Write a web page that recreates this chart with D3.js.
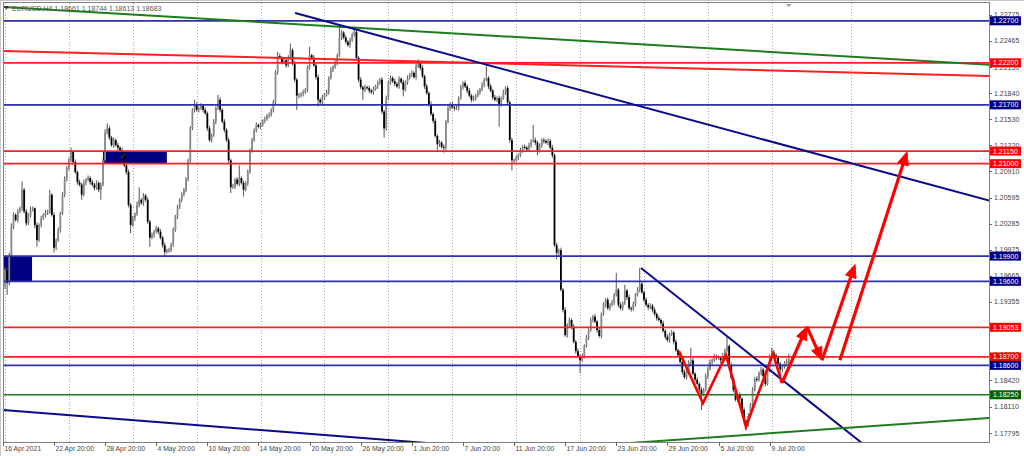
<!DOCTYPE html>
<html><head><meta charset="utf-8">
<script src="https://cdn.jsdelivr.net/npm/d3@7"></script>
<style>body{margin:0;background:#fff}svg{display:block}text{font-family:"Liberation Sans",Arial,sans-serif}</style>
</head><body><svg id="c" width="1024" height="456"></svg>
<script>
// ---- data (EURUSD H4) ----
const firstOpen = 1.1955;
const closes = [
1.1974,1.1958,1.1991,1.2025,1.2039,1.2033,1.2043,1.2047,1.2069,1.2043,
1.2029,1.2039,1.2045,1.2047,1.2027,1.2009,1.2027,1.2035,1.2039,1.2041,
1.2043,1.2063,1.2039,1.2000,1.2009,1.2021,1.2041,1.2063,1.2081,1.2095,
1.2104,1.2114,1.2102,1.2090,1.2078,1.2075,1.2063,1.2077,1.2081,1.2083,
1.2078,1.2075,1.2071,1.2077,1.2069,1.2075,1.2104,1.2137,1.2142,1.2131,
1.2122,1.2128,1.2122,1.2119,1.2116,1.2110,1.2098,1.2090,1.2051,1.2027,
1.2035,1.2040,1.2051,1.2057,1.2053,1.2062,1.2057,1.2031,1.2012,1.2015,
1.2019,1.2023,1.2019,1.2012,1.2003,1.1995,1.1997,1.1997,1.2004,1.2021,
1.2037,1.2048,1.2057,1.2063,1.2069,1.2081,1.2104,1.2142,1.2164,1.2170,
1.2164,1.2166,1.2169,1.2164,1.2160,1.2142,1.2128,1.2134,1.2150,1.2166,
1.2176,1.2164,1.2150,1.2140,1.2128,1.2104,1.2072,1.2073,1.2081,1.2076,
1.2083,1.2077,1.2069,1.2077,1.2090,1.2116,1.2128,1.2140,1.2146,1.2144,
1.2146,1.2151,1.2153,1.2157,1.2158,1.2164,1.2173,1.2209,1.2228,1.2226,
1.2221,1.2223,1.2217,1.2226,1.2235,1.2219,1.2200,1.2181,1.2181,1.2183,
1.2185,1.2188,1.2214,1.2229,1.2226,1.2217,1.2203,1.2176,1.2173,1.2179,
1.2182,1.2185,1.2202,1.2212,1.2215,1.2220,1.2229,1.2250,1.2256,1.2250,
1.2245,1.2241,1.2247,1.2254,1.2257,1.2226,1.2200,1.2191,1.2188,1.2191,
1.2190,1.2187,1.2185,1.2189,1.2192,1.2196,1.2200,1.2162,1.2142,1.2178,
1.2197,1.2202,1.2198,1.2195,1.2192,1.2201,1.2197,1.2188,1.2197,1.2202,
1.2206,1.2208,1.2203,1.2216,1.2220,1.2214,1.2204,1.2192,1.2184,1.2171,
1.2159,1.2151,1.2133,1.2123,1.2125,1.2120,1.2119,1.2150,1.2166,1.2171,
1.2167,1.2166,1.2166,1.2178,1.2191,1.2196,1.2192,1.2187,1.2181,1.2176,
1.2178,1.2181,1.2185,1.2188,1.2194,1.2200,1.2202,1.2192,1.2187,1.2179,
1.2176,1.2178,1.2171,1.2178,1.2185,1.2190,1.2173,1.2128,1.2104,1.2104,
1.2107,1.2110,1.2116,1.2120,1.2119,1.2117,1.2122,1.2127,1.2128,1.2125,
1.2116,1.2121,1.2128,1.2127,1.2125,1.2127,1.2119,1.2110,1.2003,1.1994,
1.1997,1.1950,1.1926,1.1896,1.1908,1.1914,1.1906,1.1888,1.1877,1.1871,
1.1866,1.1871,1.1883,1.1893,1.1902,1.1914,1.1918,1.1912,1.1902,1.1895,
1.1921,1.1932,1.1938,1.1928,1.1932,1.1935,1.1944,1.1950,1.1932,1.1928,
1.1934,1.1949,1.1941,1.1928,1.1927,1.1933,1.1944,1.1950,1.1957,1.1947,
1.1938,1.1932,1.1929,1.1931,1.1926,1.1921,1.1916,1.1914,1.1910,1.1901,
1.1894,1.1890,1.1897,1.1899,1.1888,1.1878,1.1872,1.1864,1.1852,1.1846,
1.1852,1.1863,1.1866,1.1850,1.1843,1.1838,1.1831,1.1826,1.1831,1.1847,
1.1856,1.1864,1.1866,1.1871,1.1869,1.1869,1.1866,1.1872,1.1878,1.1883,
1.1860,1.1845,1.1831,1.1819,1.1825,1.1820,1.1807,1.1794,1.1790,1.1800,
1.1813,1.1831,1.1844,1.1843,1.1851,1.1855,1.1847,1.1838,1.1855,1.1870,
1.1875,1.1872,1.1869,1.1862,1.1855,1.1858,1.1863,1.1865,1.1868];
// wick lengths in pips above body / below body
const wickUp = [
3,2,3,4,3,2,3,2,10,2, 3,2,4,2,1,3,2,3,2,4, 2,6,2,3,2,3,2,3,4,2, 3,5,2,3,2,3,2,4,2,3,
2,3,2,3,2,3,2,4,6,3, 2,3,2,3,2,3,2,2,3,2, 3,2,4,15,2,3,2,3,2,3, 2,3,2,3,2,3,2,3,2,3,
2,3,2,3,2,3,2,3,2,6, 3,2,3,2,3,2,3,2,3,2, 6,3,2,3,2,3,2,3,2,3, 15,2,3,2,3,2,3,2,3,2,
3,2,3,2,3,2,3,2,5,3, 2,3,2,3,8,2,3,2,3,2, 3,2,3,10,2,3,2,3,2,3, 2,3,2,3,2,3,2,13,3,2,
3,2,3,2,6,3,2,3,2,3, 2,3,2,3,2,3,2,3,2,3, 2,3,2,3,2,3,2,3,2,3, 2,3,2,3,4,2,3,2,3,2,
3,2,3,2,3,2,3,2,3,2, 3,2,3,2,3,2,3,2,3,2, 3,2,3,2,3,2,15,2,3,2, 3,2,3,2,3,2,3,2,3,2,
3,2,3,2,3,2,3,2,18,3, 2,3,2,3,2,3,2,3,2,3, 2,3,2,3,2,3,2,3,2,3, 2,3,2,3,2,3,2,3,2,3,
2,3,2,3,2,3,2,20,2,3, 2,7,2,3,2,3,2,3,19,3, 2,3,2,3,2,3,2,3,2,3, 2,3,2,3,2,3,2,3,2,3,
2,3,15,3,2,3,2,3,2,3, 2,3,2,3,2,3,2,3,2,11, 2,3,2,3,2,3,2,3,2,3, 2,3,2,3,2,3,2,3,2,3,
6,3,2,3,2,3,2,3,6];
const wickDn = [
4,14,3,2,3,2,3,2,3,2, 3,2,3,2,4,8,2,3,2,3, 2,3,2,6,3,2,3,2,3,2, 3,2,3,2,3,2,6,2,3,2,
3,2,3,2,3,12,2,3,2,3, 2,3,2,3,2,3,2,3,3,10, 2,3,2,3,2,3,2,3,11,2, 3,2,3,2,3,6,2,3,2,3,
2,3,2,3,2,3,2,3,2,3, 2,3,2,3,2,3,2,3,2,3, 2,3,2,3,2,3,7,2,3,2, 3,2,8,2,3,2,3,2,3,2,
3,2,3,2,3,2,3,2,3,2, 3,2,3,2,3,2,3,17,3,2, 3,2,3,2,3,2,3,8,3,2, 3,2,3,2,3,2,3,2,3,2,
3,2,3,2,3,2,3,2,12,3, 2,3,2,3,2,3,2,3,11,3, 2,3,2,3,2,3,2,8,2,3, 2,3,2,3,2,3,2,3,2,3,
2,3,2,7,3,2,6,3,2,3, 2,3,2,3,2,3,2,3,2,3, 2,3,2,3,2,3,2,3,2,3, 2,3,27,3,2,3,2,3,12,3,
2,3,2,3,2,3,2,3,2,3, 6,3,2,3,2,3,2,3,2,8, 3,2,3,2,3,2,3,2,3,2, 15,2,3,2,3,2,3,2,3,2,
3,2,3,2,3,2,3,2,3,2, 3,2,3,2,3,2,3,2,3,2, 3,2,3,2,3,2,3,2,3,2, 3,2,3,2,3,2,3,2,3,2,
3,2,3,2,3,2,3,19,3,2, 3,2,3,2,3,2,3,2,3,2, 3,2,3,2,3,2,3,2,7,3, 2,3,2,3,2,3,2,3,2,3,
2,3,2,3,15,3,2,3,4];

const levelPrices = [1.22700,1.22200,1.21700,1.21150,1.21000,1.19900,1.19600,1.19053,1.18700,1.18600,1.18250];
const levelKinds  = ["blue","red","blue","red","red","blue","blue","red","red","blue","green"];
const priceTicks = [1.22775,1.22465,1.22150,1.21840,1.21530,1.21220,1.20910,1.20595,1.20285,1.19975,1.19665,1.19355,1.19045,1.18730,1.18420,1.18110,1.17795];
const timeLabels = ["16 Apr 2021","22 Apr 20:00","28 Apr 20:00","4 May 20:00","10 May 20:00","14 May 20:00","20 May 20:00","26 May 20:00","1 Jun 20:00","7 Jun 20:00","11 Jun 20:00","17 Jun 20:00","23 Jun 20:00","29 Jun 20:00","5 Jul 20:00","9 Jul 20:00"];
const timeIdx = [-1,23,47,71,95,119,143,167,191,215,239,263,287,311,335,359];
const gridIdx = [0,30,60,90,120,150,180,210,240,270,300,330,360,397];
// trend lines: [startIndex, startPrice, endIndex, endPrice, kind]
const trendLines = [
  [-0.94,1.22865,462.9,1.22175,"green"],
  [-0.94,1.22341,462.9,1.22044,"red"],
  [136.2,1.22793,462.9,1.20556,"navy"],
  [-0.94,1.18069,204.2,1.17664,"navy"],
  [298.6,1.19759,402.3,1.17676,"navy"],
  [293.4,1.17676,462.9,1.17974,"green"]];
// rectangles: [i1,i2,pTop,pBottom]
const boxes = [[-0.94,12.7,1.1990,1.1960],[46,76,1.2115,1.2100]];
// hand-drawn pattern
const zigIdx = [316.4,327.7,338.5,347.9,360.6,364.8];
const zigPrice = [1.1877,1.1815,1.1872,1.1787,1.1874,1.1839];
// arrows: [i1,p1,i2,p2]
const arrows = [[364.8,1.1839,376.5,1.1906],[376.5,1.1906,383.6,1.1866],[383.6,1.1866,399.1,1.1980],[392,1.1866,423.5,1.2114]];
const header = "EURUSD,H4  1.18661 1.18744 1.18613 1.18683";

// ---- drawing ----
const P = {l:3,t:3,r:989,b:442};
const col = {blue:"#2f2fa6",navy:"#0a0a8c",red:"#ff2020",green:"#1d7d1d"};
const labBg = {blue:"#000080",red:"#ff0000",green:"#006400"};
const x = d3.scaleLinear().domain([0,368]).range([5,788.8]);
const y = d3.scaleLinear().domain([1.17688,1.229]).range([442,4]);
const svg = d3.select("#c");
svg.append("rect").attr("width",1024).attr("height",456).attr("fill","#fff");
svg.append("defs").append("clipPath").attr("id","cp").append("rect")
  .attr("x",P.l).attr("y",P.t).attr("width",P.r-P.l).attr("height",P.b-P.t);
const g = svg.append("g").attr("clip-path","url(#cp)");

// grid
g.selectAll(".gx").data(gridIdx).enter().append("line")
  .attr("x1",d=>Math.round(x(d))+0.5).attr("x2",d=>Math.round(x(d))+0.5)
  .attr("y1",P.t).attr("y2",P.b).attr("stroke","#a8a8a8").attr("stroke-dasharray","1,2");

// boxes (background)
g.selectAll(".bx").data(boxes).enter().append("rect")
  .attr("x",d=>x(d[0])).attr("width",d=>x(d[1])-x(d[0]))
  .attr("y",d=>y(d[2])).attr("height",d=>y(d[3])-y(d[2])).attr("fill","#000080");

// candles
const bars = closes.map((c,i)=>{
  const o = i===0 ? firstOpen : closes[i-1];
  return {i,o,c,h:Math.max(o,c)+wickUp[i]*0.0001,l:Math.min(o,c)-wickDn[i]*0.0001};
});
g.selectAll(".wk").data(bars).enter().append("line")
  .attr("x1",d=>x(d.i)).attr("x2",d=>x(d.i))
  .attr("y1",d=>y(d.h)).attr("y2",d=>y(d.l)).attr("stroke","#555").attr("stroke-width",1);
g.selectAll(".bd").data(bars).enter().append("rect")
  .attr("x",d=>x(d.i)-0.9).attr("width",1.8)
  .attr("y",d=>y(Math.max(d.o,d.c)))
  .attr("height",d=>Math.max(1,Math.abs(y(d.o)-y(d.c))))
  .attr("fill",d=>d.c>=d.o?"#8a8a8a":"#000");

// horizontal levels
g.selectAll(".lv").data(levelPrices).enter().append("line")
  .attr("x1",P.l).attr("x2",P.r).attr("y1",d=>y(d)).attr("y2",d=>y(d))
  .attr("stroke",(d,i)=>col[levelKinds[i]]).attr("stroke-width",1.7);

// trend lines
g.selectAll(".tl").data(trendLines).enter().append("line")
  .attr("x1",d=>x(d[0])).attr("y1",d=>y(d[1])).attr("x2",d=>x(d[2])).attr("y2",d=>y(d[3]))
  .attr("stroke",d=>col[d[4]]).attr("stroke-width",2);

// zigzag
g.append("path").datum(zigIdx.map((d,i)=>[d,zigPrice[i]]))
  .attr("d",d3.line().x(d=>x(d[0])).y(d=>y(d[1])))
  .attr("fill","none").attr("stroke","#ff0000").attr("stroke-width",2.6).attr("stroke-linejoin","miter");

// arrows
arrows.forEach(a=>{
  const x1=x(a[0]),y1=y(a[1]),x2=x(a[2]),y2=y(a[3]);
  const dx=x2-x1,dy=y2-y1,len=Math.hypot(dx,dy),ux=dx/len,uy=dy/len;
  const hl=13,hw=5.5,bx=x2-ux*hl,by=y2-uy*hl;
  g.append("line").attr("x1",x1).attr("y1",y1).attr("x2",bx+ux*2).attr("y2",by+uy*2)
    .attr("stroke","#ff0000").attr("stroke-width",3.2);
  g.append("polygon").attr("points",`${x2},${y2} ${bx-uy*hw},${by+ux*hw} ${bx+uy*hw},${by-ux*hw}`)
    .attr("fill","#ff0000").attr("stroke","#ff0000").attr("stroke-width",1);
});

// frame
svg.append("rect").attr("x",P.l+0.5).attr("y",P.t-0.5).attr("width",P.r-P.l).attr("height",P.b-P.t+1)
  .attr("fill","none").attr("stroke","#808080").attr("stroke-width",1);
svg.append("line").attr("x1",0).attr("x2",1024).attr("y1",0.5).attr("y2",0.5).attr("stroke","#c8c8c8");
svg.append("line").attr("x1",0.5).attr("x2",0.5).attr("y1",0).attr("y2",456).attr("stroke","#c8c8c8");

// header
svg.append("path").attr("d","M4,6 L9,6 L6.5,9.5 Z").attr("fill","#333");
svg.append("text").attr("x",12).attr("y",10.5).attr("font-size",7).attr("fill","#555").text(header);
// shift marker
svg.append("path").attr("d",`M${x(368)-3},4 L${x(368)+3},4 L${x(368)},7 Z`).attr("fill","#a0a0a0");

// price axis
const ax = svg.append("g");
priceTicks.forEach(p=>{
  ax.append("line").attr("x1",P.r).attr("x2",P.r+3).attr("y1",Math.round(y(p))+0.5).attr("y2",Math.round(y(p))+0.5).attr("stroke","#666");
  ax.append("text").attr("x",P.r+5).attr("y",y(p)+2.5).attr("font-size",7).attr("fill","#444").text(p.toFixed(5));
});
levelPrices.forEach((p,i)=>{
  const yy=y(p);
  ax.append("rect").attr("x",P.r+1).attr("y",yy-4.5).attr("width",31).attr("height",9).attr("fill",labBg[levelKinds[i]]);
  ax.append("text").attr("x",P.r+4).attr("y",yy+2.5).attr("font-size",7).attr("fill","#fff").text(p.toFixed(5));
});

// time axis
timeIdx.forEach((ti,k)=>{
  const xx = Math.max(P.l, Math.round(x(ti)));
  ax.append("line").attr("x1",xx+0.5).attr("x2",xx+0.5).attr("y1",P.b).attr("y2",P.b+4).attr("stroke","#666");
  ax.append("text").attr("x",xx+1.5).attr("y",451).attr("font-size",6.8).attr("fill","#444").text(timeLabels[k]);
});
</script></body></html>
